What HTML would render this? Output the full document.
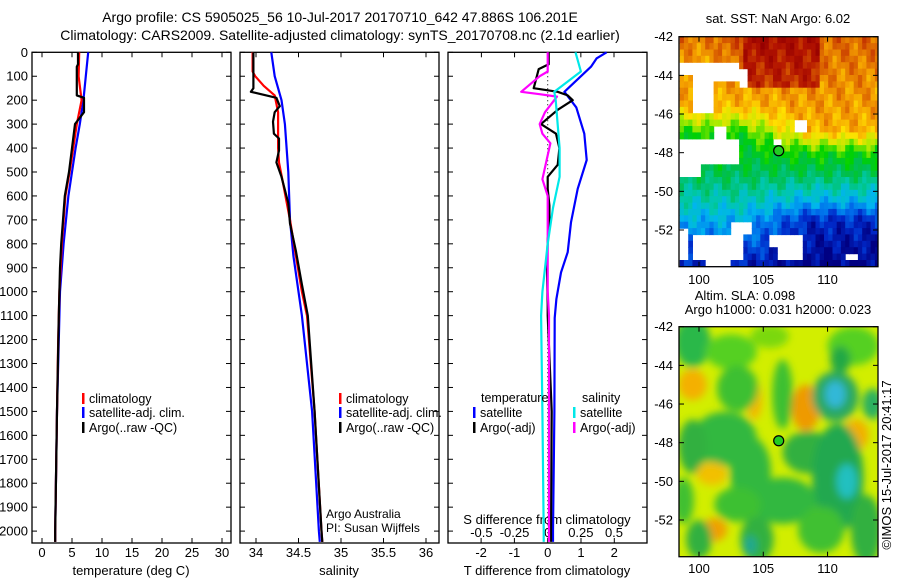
<!DOCTYPE html>
<html><head><meta charset="utf-8"><style>
html,body{margin:0;padding:0;background:#fff;}
svg{display:block;font-family:"Liberation Sans",sans-serif;}
</style></head><body>
<svg id="fig" width="900" height="580" viewBox="0 0 900 580">
<g id="titles" font-size="14" text-anchor="middle">
<text x="340" y="22">Argo profile: CS 5905025_56 10-Jul-2017 20170710_642 47.886S 106.201E</text>
<text x="340" y="40">Climatology: CARS2009. Satellite-adjusted climatology: synTS_20170708.nc (2.1d earlier)</text>
</g>
<g id="root"></g>
</svg>
<script>
// ---------- DATA ----------
const depthTicks=[0,100,200,300,400,500,600,700,800,900,1000,1100,1200,1300,1400,1500,1600,1700,1800,1900,2000];
const tempTicks=[0,5,10,15,20,25,30];
const salTicks=[34,34.5,35,35.5,36];
const tdiffTicks=[-2,-1,0,1,2];
const sdiffTicks=[-0.5,-0.25,0,0.25,0.5];
const sdiffTickLabels=["-0.5","-0.25","0","0.25","0.5"];

const tArgoDepth=[0,50,60,180,190,250,300,400,500,600,700,800,900,1000,1100,1500,2000,2045];
const tArgo=[6.0,6.0,5.8,5.8,7.0,7.0,5.5,5.0,4.5,3.8,3.5,3.2,3.0,2.9,2.8,2.5,2.2,2.2];
const tClimDepth=[0,100,200,300,400,500,600,700,800,900,1000,1200,1500,2000,2045];
const tClim=[6.2,6.1,6.6,5.8,5.2,4.6,3.9,3.6,3.3,3.1,2.9,2.7,2.5,2.2,2.2];
const tSat=[7.7,7.3,6.9,6.3,5.6,5.0,4.4,4.0,3.6,3.3,3.0,2.8,2.5,2.2,2.2];

const sArgoDepth=[0,150,165,190,225,250,290,340,360,410,460,520,630,715,830,970,1100,1500,2000,2045];
const sArgo=[33.97,33.97,33.94,34.24,34.28,34.22,34.20,34.21,34.27,34.27,34.24,34.30,34.38,34.40,34.47,34.54,34.61,34.69,34.77,34.78];
const sClimDepth=[0,80,100,140,180,250,400,460,550,700,850,1000,1100,1500,2000,2045];
const sClim=[33.96,33.96,33.99,34.09,34.22,34.26,34.26,34.27,34.32,34.40,34.47,34.54,34.60,34.69,34.77,34.78];
const sSatDepth=[0,100,200,300,500,700,850,1000,1100,1500,2000,2045];
const sSat=[34.18,34.22,34.30,34.34,34.38,34.40,34.44,34.50,34.54,34.66,34.74,34.75];

const dTSatDepth=[0,25,60,165,230,340,450,570,710,835,920,1030,1110,1500,2000,2045];
const dTSat=[1.77,1.47,1.3,0.5,0.86,1.1,1.17,0.9,0.7,0.6,0.4,0.26,0.21,0.2,0.16,0.16];
const dTArgoDepth=[0,50,70,150,165,180,200,240,300,340,400,470,520,570,640,730,780,900,1050,1100,1500,2000,2045];
const dTArgo=[0.03,0.03,-0.27,-0.42,0.3,0.6,0.75,0.3,-0.2,0.25,0.35,0.3,0.0,0.0,0.05,0.05,0.0,-0.02,0.0,0.0,0.12,0.1,0.1];
const dSArgoDepth=[0,80,100,165,175,185,250,300,340,380,430,530,600,750,1000,1100,1500,2000,2045];
const dSArgo=[0.0,0.0,-0.06,-0.2,-0.06,0.07,-0.02,-0.06,-0.04,0.02,0.0,-0.04,0.0,0.0,0.0,0.01,0.01,0.01,0.01];
const dSSatDepth=[0,80,165,200,400,520,650,800,1000,1100,1500,2000,2045];
const dSSat=[0.21,0.25,0.05,0.06,0.09,0.09,0.04,0.0,-0.04,-0.05,-0.04,-0.03,-0.03];

const lonTicks=[100,105,110];
const latTicks=[-42,-44,-46,-48,-50,-52];
const argoLon=106.2, argoLat=-47.9;

// ---------- HELPERS ----------
const NS="http://www.w3.org/2000/svg";
const root=document.getElementById('root');
function mk(tag,attrs,parent){const e=document.createElementNS(NS,tag);for(const k in attrs)e.setAttribute(k,attrs[k]);(parent||root).appendChild(e);return e;}
const PT=52.3, PB=543, DS=0.2394;
function yD(d){return PT+d*DS;}
function lin(v0,p0,v1,p1){return v=>p0+(v-v0)*(p1-p0)/(v1-v0);}
const xT=lin(0,42,30,222);
const xS=lin(34,256,36,426);
const xDT=lin(0,547.7,1,581);
const xDS=lin(0,547.7,0.5,614);

function panel(x0,x1,name){
  const g=mk('g',{});
  
  
  mk('rect',{x:x0,y:PT,width:x1-x0,height:PB-PT,fill:'none',stroke:'#000','stroke-width':1.3},g);
  depthTicks.forEach(d=>{
    const y=yD(d);
    const t1=mk('line',{x1:x0,x2:x0+5,y1:y,y2:y,stroke:'#000'},g);
    
    
    mk('line',{x1:x1-5,x2:x1,y1:y,y2:y,stroke:'#000'},g);
  });
  return g;
}
function xticks(g,ticks,labels,xf,x0,x1,ylab,top,bot){
  ticks.forEach((v,i)=>{
    const x=xf(v);
    if(bot) mk('line',{x1:x,x2:x,y1:PB-5,y2:PB,stroke:'#000'},g);
    if(top) mk('line',{x1:x,x2:x,y1:PT,y2:PT+5,stroke:'#000'},g);
    if(ylab!=null){
      const t=mk('text',{x:x,y:ylab,'font-size':13,'text-anchor':'middle'},g);
      
      
      t.textContent=labels[i];
    }
  });
}
function line(g,xs,ds,xf,color,name,w){
  const pts=xs.map((v,i)=>xf(v).toFixed(1)+','+yD(ds[i]).toFixed(1)).join(' ');
  const p=mk('polyline',{points:pts,fill:'none',stroke:color,'stroke-width':w||2.2,'stroke-linejoin':'round'},g);
  
  
}
function legend(g,x,y,color,label){
  const r=mk('rect',{x:x,y:y-9,width:2.5,height:11,fill:color},g);
  
  
  const t=mk('text',{x:x+7,y:y+1,'font-size':12.5},g);
  
  
  t.textContent=label;
}
function text(g,x,y,s,size,anchor,name){
  const t=mk('text',{x:x,y:y,'font-size':size||13,'text-anchor':anchor||'start'},g);
  
  
  t.textContent=s;return t;
}

// depth labels
const dl=mk('g',{'font-size':13,'text-anchor':'end'});


depthTicks.forEach(d=>{const t=mk('text',{x:28,y:yD(d)+4.5},dl);t.textContent=d;});

// Panel 1: temperature
const g1=panel(32,231,'temperature-panel');
xticks(g1,tempTicks,tempTicks.map(String),xT,32,231,557,true,true);
text(g1,131,575,'temperature (deg C)',13,'middle','x-axis-title');
line(g1,tSat,tClimDepth,xT,'#0000ff','satellite-adj-clim-line');
line(g1,tClim,tClimDepth,xT,'#ff0000','climatology-line');
line(g1,tArgo,tArgoDepth,xT,'#000','argo-line');
legend(g1,82,402,'#ff0000','climatology');
legend(g1,82,416,'#0000ff','satellite-adj. clim.');
legend(g1,82,431,'#000','Argo(..raw -QC)');

// Panel 2: salinity
const g2=panel(240,439,'salinity-panel');
xticks(g2,salTicks,salTicks.map(String),xS,240,439,557,true,true);
text(g2,339,575,'salinity',13,'middle','x-axis-title');
line(g2,sSat,sSatDepth,xS,'#0000ff','satellite-adj-clim-line');
line(g2,sClim,sClimDepth,xS,'#ff0000','climatology-line');
line(g2,sArgo,sArgoDepth,xS,'#000','argo-line');
legend(g2,339,402,'#ff0000','climatology');
legend(g2,339,416,'#0000ff','satellite-adj. clim.');
legend(g2,339,431,'#000','Argo(..raw -QC)');
text(g2,326,518,'Argo Australia',12,'start','credit-text');
text(g2,326,532,'PI: Susan Wijffels',12,'start','credit-text');

// Panel 3: differences
const g3=panel(448,647,'difference-panel');
xticks(g3,tdiffTicks,tdiffTicks.map(String),xDT,448,647,557,false,true);
xticks(g3,sdiffTicks,sdiffTickLabels,xDS,448,647,537,true,false);
text(g3,547,575,'T difference from climatology',13,'middle','x-axis-title');
text(g3,547,524,'S difference from climatology',13,'middle','s-axis-title');
const zl=mk('line',{x1:xDT(0),x2:xDT(0),y1:PT,y2:PB,stroke:'#000','stroke-dasharray':'1,3'},g3);

line(g3,dTSat,dTSatDepth,xDT,'#0000ff','t-satellite-diff-line');
line(g3,dTArgo,dTArgoDepth,xDT,'#000','t-argo-diff-line');
line(g3,dSArgo,dSArgoDepth,xDS,'#ff00ff','s-argo-diff-line');
line(g3,dSSat,dSSatDepth,xDS,'#00e8e8','s-satellite-diff-line');
text(g3,481,402,'temperature',12.5,'start','legend-header');
text(g3,582,402,'salinity',12.5,'start','legend-header');
legend(g3,473,416,'#0000ff','satellite');
legend(g3,473,431,'#000','Argo(-adj)');
legend(g3,573,416,'#00e8e8','satellite');
legend(g3,573,431,'#ff00ff','Argo(-adj)');

// ---------- MAPS ----------
const MX0=679,MX1=878;
const xL=lin(98.5,679.7,114,879);
function mapAxes(g,y0,y1,latY,xlabY){
  mk('rect',{x:MX0,y:y0,width:MX1-MX0,height:y1-y0,fill:'none',stroke:'#000','stroke-width':1.3},g);
  lonTicks.forEach(v=>{const x=xL(v);mk('line',{x1:x,x2:x,y1:y1-5,y2:y1,stroke:'#000'},g);mk('line',{x1:x,x2:x,y1:y0,y2:y0+5,stroke:'#000'},g);
    const t=mk('text',{x:x,y:xlabY,'font-size':13,'text-anchor':'middle'},g);t.textContent=v;});
  latTicks.forEach(v=>{const y=latY(v);mk('line',{x1:MX0,x2:MX0+5,y1:y,y2:y,stroke:'#000'},g);mk('line',{x1:MX1-5,x2:MX1,y1:y,y2:y,stroke:'#000'},g);
    const t=mk('text',{x:673,y:y+4.5,'font-size':13,'text-anchor':'end'},g);t.textContent=v;});
  const c=mk('circle',{cx:xL(argoLon),cy:latY(argoLat),r:5,fill:'#22cc22',stroke:'#000','stroke-width':1.2},g);
  
}
// SST map
const m1=mk('g',{});


const yL1=lin(-42,36.7,-52,230);
text(m1,778,23,'sat. SST: NaN Argo: 6.02',13,'middle','sst-map-title');
const cmap=[[0,0,130],[0,40,200],[0,110,235],[0,180,240],[0,200,170],[0,190,80],[0,210,0],[170,235,0],[255,225,0],[245,160,0],[215,90,0],[180,20,0],[150,0,0]];
function col(v){v=Math.max(0,Math.min(1,v))*(cmap.length-1);const i=Math.min(cmap.length-2,Math.floor(v)),f=v-i;const a=cmap[i],b=cmap[i+1];return 'rgb('+a.map((c,k)=>Math.round(c+(b[k]-c)*f)).join(',')+')';}
function interp(xs,ys,x){if(x>=xs[0])return ys[0];for(let i=1;i<xs.length;i++){if(x>=xs[i]){const f=(x-xs[i-1])/(xs[i]-xs[i-1]);return ys[i-1]+f*(ys[i]-ys[i-1]);}}return ys[ys.length-1];}
const nan=[[98.5,99.6,-43.3,-44.0],[99.6,101,-43.3,-46],[101,103.2,-43.3,-44.3],[103.2,103.8,-43.6,-44.8],[98.5,100.2,-47.3,-49.3],[100.2,103.2,-47.3,-48.7],[101,102,-46.6,-47.3],
[98.5,99.2,-51.8,-53.5],[99.5,103.5,-52.1,-53.5],[102.5,104,-51.6,-52.2],[100.5,102.5,-53.5,-54],[105.5,108,-52.1,-52.8],[106,108,-53.0,-53.4],[111.5,112.3,-53.3,-53.6],[105.7,106.3,-47.2,-47.7],[107.5,108.3,-46.3,-46.9]];
const clip1=mk('clipPath',{id:'c1'});mk('rect',{x:MX0,y:36.7,width:MX1-MX0,height:230},clip1);
const cells=mk('g',{'clip-path':'url(#c1)'},m1);
const step=0.33;
const latL=[-42,-45.6,-47,-49,-50.5,-52.5,-54], vL=[0.84,0.72,0.5,0.42,0.32,0.17,0.05];
const latR=[-42,-46.8,-48,-49.2,-50.5,-51.5,-54], vR=[0.82,0.73,0.5,0.4,0.25,0.08,0.0];
for(let lon=98.5;lon<114;lon+=step){for(let lat=-42;lat>-54;lat-=step){
  const lc=lon+step/2, la=lat-step/2;
  if(nan.some(r=>lc>=r[0]&&lc<=r[1]&&la<=r[2]&&la>=r[3]))continue;
  const w=Math.max(0,Math.min(1,(lc-103.5)/5));
  let v=(1-w)*interp(latL,vL,la)+w*interp(latR,vR,la);
  v+=0.035*Math.sin(lc*3.1+la*2.3)+0.03*Math.cos(lc*5.7-la*4.1);
  if(la>-44.5&&lc>103.5&&lc<109.5)v+=0.12;
  if(la>-43.5&&lc<101.5)v-=0.04;
  mk('rect',{x:xL(lon).toFixed(1),y:yL1(lat).toFixed(1),width:(step*12.87+0.6).toFixed(1),height:(step*19.33+0.6).toFixed(1),fill:col(v)},cells);
}}
mapAxes(m1,36.7,266.7,yL1,284);

// SLA map
const m2=mk('g',{});


const yL2=lin(-42,326.7,-52,520);
text(m2,745,300,'Altim. SLA: 0.098',13,'middle','sla-map-title');
text(m2,778,314,'Argo h1000: 0.031 h2000: 0.023',13,'middle','sla-map-subtitle');
const clip2=mk('clipPath',{id:'c2'});mk('rect',{x:MX0,y:326.7,width:MX1-MX0,height:230},clip2);
const flt=mk('filter',{id:'blur',x:'-50%',y:'-50%',width:'200%',height:'200%'});mk('feGaussianBlur',{stdDeviation:4},flt);
const sla=mk('g',{'clip-path':'url(#c2)'},m2);
mk('rect',{x:MX0,y:326.7,width:MX1-MX0,height:230,fill:'#d2ee00'},sla);
const bl=mk('g',{filter:'url(#blur)'},sla);
const blobs=[
[99.5,-42.8,1.4,1.3,'#2cb84a'],[102.5,-43.3,2,0.9,'#55d020'],[105.5,-42.5,1.5,0.6,'#7ad810'],[112,-43,2,1,'#55d020'],[111,-43.7,0.8,0.7,'#22a844'],
[99.5,-45,1.1,0.8,'#f4b000'],[104.3,-45.8,0.6,1,'#f3b800'],[108.3,-46.2,1.1,1.2,'#ee9a00'],[112.2,-47.6,1,0.8,'#f2b000'],
[110.6,-45.6,1.8,1.3,'#2aa860'],[110.6,-45.5,0.8,0.7,'#30b8d8'],[113.5,-46,0.8,0.8,'#2cb060'],
[103,-45.2,1.6,1.2,'#3cc030'],[106.5,-45.5,0.8,1.8,'#3cc030'],[102,-47.8,2.5,1.4,'#30b840'],[99.5,-48.2,1.1,1.4,'#30b040'],
[104,-49.5,1.6,1.8,'#30b840'],[108.5,-48.5,2,1.1,'#30b040'],[110.8,-49.8,2,2.8,'#22a850'],[111.5,-50,0.8,0.9,'#20c0c0'],
[101,-49.6,1.2,0.6,'#f2c000'],[106.5,-51,2.6,1.2,'#30b840'],[103,-51.2,1.8,0.9,'#3cc030'],[101.2,-52.5,1,0.6,'#f0a000'],
[104.5,-53,1.3,1.2,'#30b040'],[104,-53.3,0.5,0.5,'#20a890'],[100,-53,1,1,'#30b040'],[109.5,-52.5,1.8,1.2,'#40c030'],[113,-52.5,1.2,1.8,'#30b040'],[98.8,-51,0.8,1.2,'#40c030']];
blobs.forEach(b=>{mk('ellipse',{cx:xL(b[0]),cy:yL2(b[1]),rx:b[2]*12.87,ry:b[3]*19.33,fill:b[4]},bl);});
mapAxes(m2,326.7,556.7,yL2,573);

const cr=text(root,0,0,'©IMOS 15-Jul-2017 20:41:17',13,'middle','timestamp-credit');
cr.setAttribute('transform','translate(891,465) rotate(-90)');
</script>
</body></html>
